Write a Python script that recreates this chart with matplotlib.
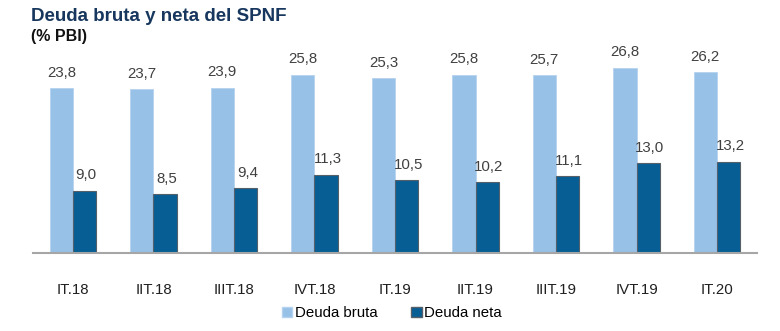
import numpy as np
import matplotlib.pyplot as plt
from matplotlib.patches import Patch

plt.rcParams['font.family'] = ['Liberation Sans', 'DejaVu Sans']

trimestres = ['IT.18', 'IIT.18', 'IIIT.18', 'IVT.18', 'IT.19',
              'IIT.19', 'IIIT.19', 'IVT.19', 'IT.20']
deuda_bruta = [23.8, 23.7, 23.9, 25.8, 25.3, 25.8, 25.7, 26.8, 26.2]
deuda_neta = [9.0, 8.5, 9.4, 11.3, 10.5, 10.2, 11.1, 13.0, 13.2]

c_bruta = '#97C1E7'
c_neta = '#065E95'

fig = plt.figure(figsize=(7.8, 3.31), dpi=100)
ax = fig.add_axes([32.7 / 780, (331 - 252.7) / 331,
                   (757.3 - 32.7) / 780, (252.7 - 45.7) / 331])

x = np.arange(len(trimestres))
w = 0.29
b1 = ax.bar(x - w / 2, deuda_bruta, w, color=c_bruta, edgecolor='#b5d3ee', linewidth=0.6)
b2 = ax.bar(x + w / 2, deuda_neta, w, color=c_neta, edgecolor='#55606a', linewidth=0.8)

# etiquetas de valor con coma decimal
for rect, v in zip(b1, deuda_bruta):
    ax.annotate(f'{v:.1f}'.replace('.', ','), (rect.get_x() + rect.get_width() / 2, v),
                xytext=(0, 6), textcoords='offset points', ha='center', va='bottom',
                fontsize=10.8, color='#404040')
for rect, v in zip(b2, deuda_neta):
    ax.annotate(f'{v:.1f}'.replace('.', ','), (rect.get_x() + rect.get_width() / 2 + 0.02, v),
                xytext=(0, 6), textcoords='offset points', ha='center', va='bottom',
                fontsize=10.8, color='#404040')

ax.set_xlim(-0.5, len(trimestres) - 0.5)
ax.set_ylim(0, 30)
ax.set_xticks(x)
ax.set_xticklabels(trimestres, fontsize=10.8, color='#202020')
ax.tick_params(axis='x', length=0, pad=22)
ax.set_yticks([])
for s in ['top', 'right', 'left']:
    ax.spines[s].set_visible(False)
ax.spines['bottom'].set_color('#a6a6a6')
ax.spines['bottom'].set_linewidth(1.5)

fig.text(31 / 780, 1 - 21 / 331, 'Deuda bruta y neta del SPNF', fontsize=13.5,
         fontweight='bold', color='#17375E', va='baseline')
fig.text(31 / 780, 1 - 41 / 331, '(% PBI)', fontsize=11.5,
         fontweight='bold', color='#111111', va='baseline')

handles = [Patch(facecolor=c_bruta, edgecolor='#b5d3ee', label='Deuda bruta'),
           Patch(facecolor=c_neta, edgecolor='#55606a', label='Deuda neta')]
fig.legend(handles=handles, loc='center', bbox_to_anchor=(392 / 780, 1 - 313 / 331),
           ncol=2, frameon=False, fontsize=10.8, handlelength=0.7, handleheight=0.7,
           handletextpad=0.2, columnspacing=2.2)

fig.savefig('out.png', dpi=100)
